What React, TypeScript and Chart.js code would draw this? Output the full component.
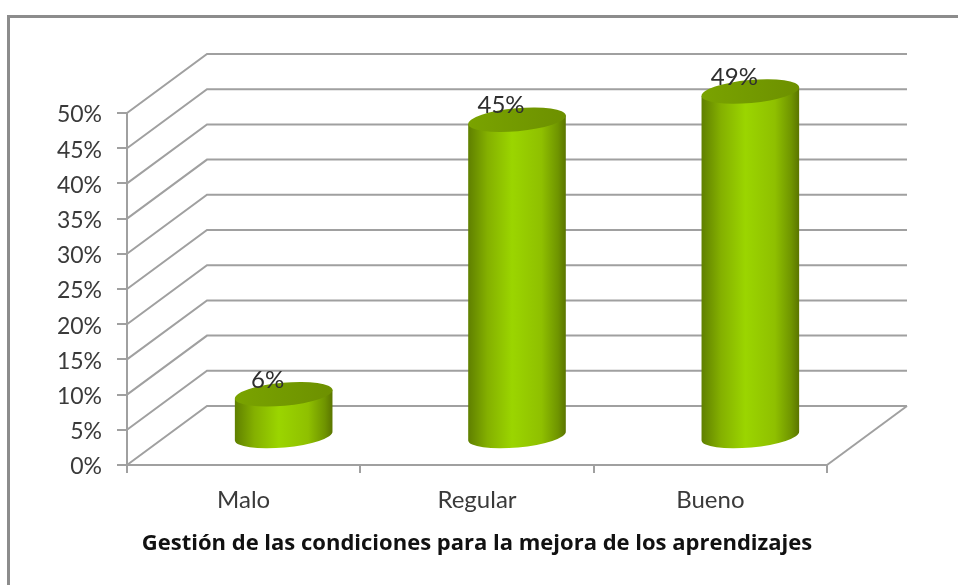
import React, { useEffect, useRef } from "react";
import { Chart, registerables } from "chart.js";

Chart.register(...registerables);

const categories = ["Malo", "Regular", "Bueno"];
const values = [6, 45, 49];
const axisMax = 50;
const axisStep = 5;
const axisTitle = "Gestión de las condiciones para la mejora de los aprendizajes";

const FONT = "Lato, Carlito, Calibri, sans-serif";
const GRID = "#a0a0a0";
const DEPTH_X = 80;
const DEPTH_Y = 59;
const TILT = -0.09;

const wallPlugin = {
  id: "wall",
  beforeDatasetsDraw(chart: any) {
    const { ctx, chartArea: a, scales, width, height } = chart;
    const y = scales.y;
    ctx.save();
    ctx.strokeStyle = "#8c8c8c";
    ctx.lineWidth = 3;
    ctx.beginPath();
    ctx.moveTo(8.5, height);
    ctx.lineTo(8.5, 16.5);
    ctx.lineTo(width, 16.5);
    ctx.stroke();
    ctx.strokeStyle = GRID;
    ctx.lineWidth = 2;
    y.ticks.forEach((t: any) => {
      const py = y.getPixelForValue(t.value);
      ctx.beginPath();
      ctx.moveTo(a.left, py);
      ctx.lineTo(a.left + DEPTH_X, py - DEPTH_Y);
      ctx.lineTo(a.right + DEPTH_X, py - DEPTH_Y);
      ctx.stroke();
    });
    const by = y.getPixelForValue(0);
    ctx.beginPath();
    ctx.moveTo(a.right + DEPTH_X, by - DEPTH_Y);
    ctx.lineTo(a.right, by);
    ctx.stroke();
    ctx.restore();
  },
};

const cylinderPlugin = {
  id: "cylinder",
  afterDatasetsDraw(chart: any) {
    const { ctx } = chart;
    const meta = chart.getDatasetMeta(0);
    meta.data.forEach((el: any, i: number) => {
      const cx = el.x + DEPTH_X / 2;
      const rx = el.width / 2;
      const ry = 11.5;
      const topY = el.y - DEPTH_Y / 2 + 1;
      const botY = el.base - DEPTH_Y / 2 + 1.5;
      const c = Math.cos(TILT);
      const s = Math.sin(TILT);
      const lx = cx - rx * c;
      const rxp = cx + rx * c;
      ctx.save();
      const g = ctx.createLinearGradient(cx - rx, 0, cx + rx, 0);
      g.addColorStop(0, "#5f7f00");
      g.addColorStop(0.2, "#84b000");
      g.addColorStop(0.45, "#9bd500");
      g.addColorStop(0.75, "#8fc000");
      g.addColorStop(0.92, "#6f9400");
      g.addColorStop(1, "#5a7400");
      ctx.fillStyle = g;
      ctx.beginPath();
      ctx.moveTo(lx, topY - rx * s);
      ctx.lineTo(lx, botY - rx * s);
      ctx.ellipse(cx, botY, rx, ry, TILT, Math.PI, 0, true);
      ctx.lineTo(rxp, topY + rx * s);
      ctx.closePath();
      ctx.fill();
      const tg = ctx.createLinearGradient(cx - rx, 0, cx + rx, 0);
      tg.addColorStop(0, "#7aa300");
      tg.addColorStop(0.5, "#739a00");
      tg.addColorStop(1, "#6d9000");
      ctx.fillStyle = tg;
      ctx.beginPath();
      ctx.ellipse(cx, topY, rx, ry, TILT, 0, Math.PI * 2);
      ctx.fill();
      ctx.fillStyle = "#2f2f2f";
      ctx.font = `24px ${FONT}`;
      ctx.textAlign = "center";
      ctx.textBaseline = "middle";
      ctx.fillText(`${values[i]}%`, el.x + 24, topY - 14);
      ctx.restore();
    });
  },
};

export default function App() {
  const ref = useRef<HTMLCanvasElement>(null);
  useEffect(() => {
    const chart = new Chart(ref.current as HTMLCanvasElement, {
      type: "bar",
      data: {
        labels: categories,
        datasets: [
          {
            data: values,
            backgroundColor: "rgba(0,0,0,0)",
            barPercentage: 0.42,
            categoryPercentage: 1,
          },
        ],
      },
      plugins: [wallPlugin, cylinderPlugin],
      options: {
        responsive: false,
        animation: false,
        layout: { padding: { left: 0, right: 131, top: 113, bottom: 0 } },
        plugins: { legend: { display: false }, tooltip: { enabled: false } },
        scales: {
          x: {
            afterFit(s: any) {
              s.height = 120;
            },
            grid: {
              drawOnChartArea: false,
              drawTicks: true,
              tickLength: 8,
              color: GRID,
              lineWidth: 2,
              offset: true,
            },
            border: { color: GRID, width: 2 },
            ticks: {
              color: "#3a3a3a",
              font: { family: FONT, size: 24 },
              padding: 13,
              maxRotation: 0,
            },
            title: {
              display: true,
              text: axisTitle,
              color: "#111111",
              font: { family: "'Open Sans', " + FONT, size: 22, weight: "bold" },
              padding: { top: 8, bottom: 28 },
            },
          },
          y: {
            min: 0,
            max: axisMax,
            afterFit(s: any) {
              s.width = 127;
            },
            grid: {
              drawOnChartArea: false,
              drawTicks: true,
              tickLength: 10,
              color: GRID,
              lineWidth: 2,
            },
            border: { color: GRID, width: 2 },
            ticks: {
              stepSize: axisStep,
              color: "#3a3a3a",
              font: { family: FONT, size: 23 },
              padding: 15,
              labelOffset: 2,
              callback: (v: any) => `${v}%`,
            },
          },
        },
      },
    } as any);
    return () => chart.destroy();
  }, []);
  return (
    <div style={{ position: "absolute", left: 0, top: 0, width: 958, height: 585 }}>
      <canvas ref={ref} width={958} height={585} style={{ display: "block" }} />
    </div>
  );
}
